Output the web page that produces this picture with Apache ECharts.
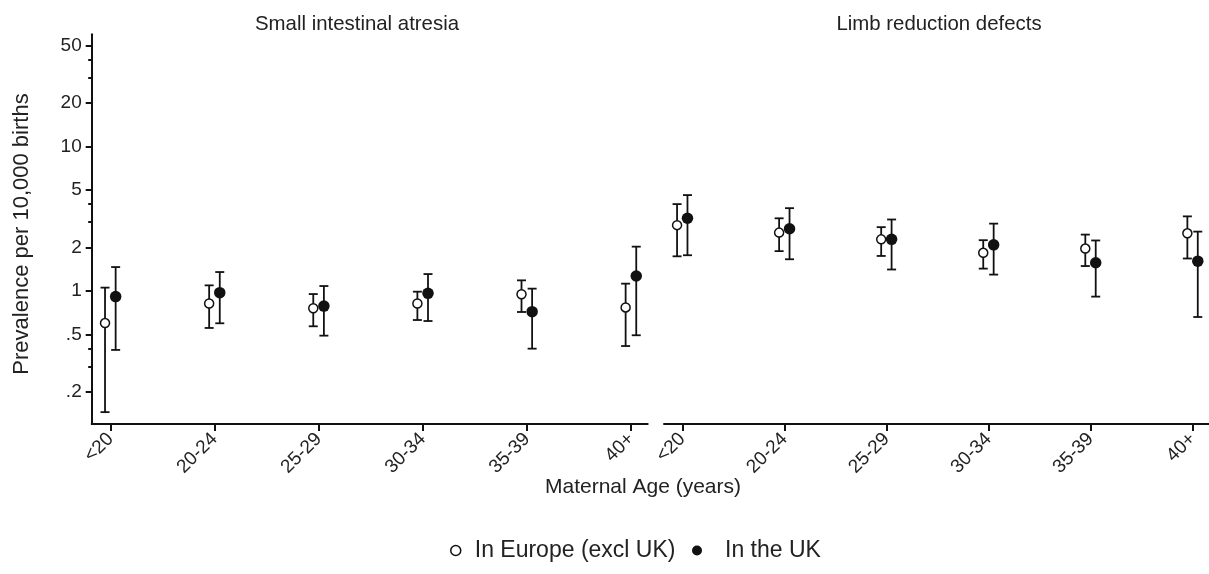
<!DOCTYPE html>
<html><head><meta charset="utf-8">
<script src="https://cdn.jsdelivr.net/npm/echarts@6/dist/echarts.min.js"></script>
<style>html,body{margin:0;padding:0;background:#fff}#c{width:1209px;height:574px}</style>
</head><body><div id="c"></div>
<script>
// Categories and tick labels
const ageGroups = ['<20', '20-24', '25-29', '30-34', '35-39', '40+'];
const yTickValues = [0.2, 0.5, 1, 2, 5, 10, 20, 50];
const yMinorTickValues = [0.3, 0.4, 3, 4, 30, 40];
const panelTitles = ['Small intestinal atresia', 'Limb reduction defects'];
const seriesNames = ['In Europe (excl UK)', 'In the UK'];

// Small intestinal atresia
const europeSIA   = [0.60, 0.82, 0.76, 0.82, 0.95, 0.77];
const europeSIALo = [0.145, 0.555, 0.57, 0.63, 0.716, 0.416];
const europeSIAHi = [1.056, 1.095, 0.953, 0.99, 1.186, 1.125];
const ukSIA   = [0.915, 0.975, 0.787, 0.964, 0.72, 1.27];
const ukSIALo = [0.391, 0.598, 0.491, 0.62, 0.399, 0.494];
const ukSIAHi = [1.466, 1.354, 1.083, 1.311, 1.039, 2.03];

// Limb reduction defects
const europeLRD   = [2.86, 2.54, 2.28, 1.84, 1.97, 2.51];
const europeLRDLo = [1.74, 1.89, 1.75, 1.43, 1.49, 1.68];
const europeLRDHi = [4.0, 3.19, 2.77, 2.25, 2.46, 3.29];
const ukLRD   = [3.19, 2.70, 2.28, 2.09, 1.57, 1.61];
const ukLRDLo = [1.77, 1.66, 1.41, 1.30, 0.915, 0.661];
const ukLRDHi = [4.62, 3.75, 3.13, 2.93, 2.24, 2.58];

const INK = '#111';
const TXT = '#222';
const FONT = '"Liberation Sans", Arial, Helvetica, sans-serif';
const offEU = -0.052, offUK = 0.05;
const catIdx = ageGroups.map((_, i) => i);

function pts(vals, off) { return vals.map((v, i) => [i + off, v]); }
function bars(lo, hi, off) { return lo.map((l, i) => [i + off, l, hi[i]]); }
function errRender(params, api) {
  const x = api.value(0), lo = api.value(1), hi = api.value(2);
  const a = api.coord([x, lo]), b = api.coord([x, hi]);
  const w = 4.5;
  const st = { stroke: INK, lineWidth: 1.8 };
  return { type: 'group', children: [
    { type: 'line', shape: { x1: a[0], y1: a[1], x2: b[0], y2: b[1] }, style: st },
    { type: 'line', shape: { x1: a[0] - w, y1: a[1], x2: a[0] + w, y2: a[1] }, style: st },
    { type: 'line', shape: { x1: b[0] - w, y1: b[1], x2: b[0] + w, y2: b[1] }, style: st }
  ]};
}
function yFmt(v) { return v < 1 ? String(v).replace(/^0/, '') : String(v); }

const grids = [
  { left: 91.7, top: 34.3, width: 556, height: 389.7 },
  { left: 664, top: 34.3, width: 556, height: 389.7 }
];
const xAxes = grids.map((g, k) => ({
  type: 'value', gridIndex: k, min: -0.18, max: 5.16, position: 'bottom',
  splitLine: { show: false },
  axisLine: { show: true, onZero: false, lineStyle: { color: INK, width: 2 } },
  axisTick: { show: true, customValues: catIdx, length: 7, lineStyle: { color: INK, width: 2 } },
  axisLabel: { show: true, customValues: catIdx, rotate: 45, margin: 12,
    formatter: v => ageGroups[Math.round(v)], color: TXT, fontSize: 19, fontFamily: FONT }
}));
const yAxes = [];
grids.forEach((g, k) => {
  yAxes.push({
    type: 'log', logBase: 10, gridIndex: k, min: 0.12, max: 60, position: 'left',
    splitLine: { show: false }, minorTick: { show: false },
    axisLine: { show: k === 0, onZero: false, lineStyle: { color: INK, width: 2 } },
    axisTick: { show: k === 0, customValues: yTickValues, length: 6, lineStyle: { color: INK, width: 2 } },
    axisLabel: { show: k === 0, customValues: yTickValues, margin: 10, formatter: yFmt,
      color: TXT, fontSize: 19, fontFamily: FONT }
  });
  yAxes.push({
    type: 'log', logBase: 10, gridIndex: k, min: 0.12, max: 60, position: 'left', offset: 0,
    splitLine: { show: false }, axisLine: { show: false, onZero: false },
    axisTick: { show: k === 0, customValues: yMinorTickValues, length: 3.5, lineStyle: { color: INK, width: 2 } },
    axisLabel: { show: false }
  });
});

const panels = [
  { eu: europeSIA, euLo: europeSIALo, euHi: europeSIAHi, uk: ukSIA, ukLo: ukSIALo, ukHi: ukSIAHi },
  { eu: europeLRD, euLo: europeLRDLo, euHi: europeLRDHi, uk: ukLRD, ukLo: ukLRDLo, ukHi: ukLRDHi }
];
const series = [];
panels.forEach((p, k) => {
  const ax = { xAxisIndex: k, yAxisIndex: 2 * k };
  series.push(Object.assign({ type: 'custom', renderItem: errRender, data: bars(p.euLo, p.euHi, offEU),
    encode: { x: 0, y: [1, 2] }, z: 1, silent: true, clip: false }, ax));
  series.push(Object.assign({ type: 'custom', renderItem: errRender, data: bars(p.ukLo, p.ukHi, offUK),
    encode: { x: 0, y: [1, 2] }, z: 1, silent: true, clip: false }, ax));
  series.push(Object.assign({ type: 'scatter', name: seriesNames[0], data: pts(p.eu, offEU),
    symbol: 'circle', symbolSize: 9, z: 3, silent: true,
    itemStyle: { color: '#fff', borderColor: INK, borderWidth: 1.5, opacity: 1 } }, ax));
  series.push(Object.assign({ type: 'scatter', name: seriesNames[1], data: pts(p.uk, offUK),
    symbol: 'circle', symbolSize: 11.5, z: 3, silent: true,
    itemStyle: { color: INK, opacity: 1 } }, ax));
});

const legendText = { fontSize: 23, color: TXT, fontFamily: FONT };
const option = {
  animation: false,
  backgroundColor: '#fff',
  title: [
    { text: panelTitles[0], left: 352, top: 9, textAlign: 'center',
      textStyle: { fontSize: 20.4, fontWeight: 'normal', color: TXT, fontFamily: FONT } },
    { text: panelTitles[1], left: 934, top: 9, textAlign: 'center',
      textStyle: { fontSize: 20.4, fontWeight: 'normal', color: TXT, fontFamily: FONT } }
  ],
  grid: grids,
  xAxis: xAxes,
  yAxis: yAxes,
  legend: [
    { left: 445, top: 534, itemWidth: 28, itemHeight: 10, selectedMode: false, textStyle: legendText,
      data: [{ name: seriesNames[0], icon: 'circle', itemStyle: { color: '#fff', borderColor: INK, borderWidth: 1.5 } }] },
    { left: 687, top: 534, itemWidth: 46, itemHeight: 10, selectedMode: false, textStyle: legendText,
      data: [{ name: seriesNames[1], icon: 'circle', itemStyle: { color: INK } }] }
  ],
  graphic: [
    { type: 'text', x: 22, y: 234, rotation: Math.PI / 2,
      style: { text: 'Prevalence per 10,000 births', font: '22px ' + FONT, fill: TXT, align: 'center', verticalAlign: 'middle' } },
    { type: 'text', x: 643, y: 487,
      style: { text: 'Maternal Age (years)', font: '21px ' + FONT, fill: TXT, align: 'center', verticalAlign: 'middle' } }
  ],
  series: series
};
const chart = echarts.init(document.getElementById('c'));
chart.setOption(option);
</script>
</body></html>
